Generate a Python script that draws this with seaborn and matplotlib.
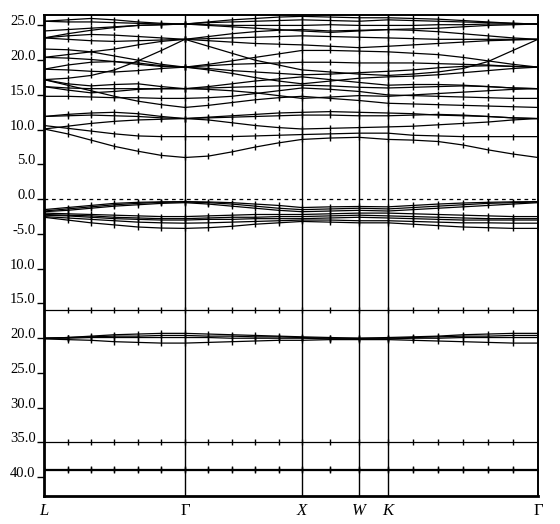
import numpy as np
import pandas as pd
import matplotlib
matplotlib.use('Agg')
import matplotlib.pyplot as plt
import seaborn as sns

# k-path: high-symmetry points and their path positions
sym_labels = ['L', 'Γ', 'X', 'W', 'K', 'Γ']
sym_pos = [0.0, 1.0, 1.830, 2.234, 2.440, 3.504]
seg_steps = [6, 5, 2, 1, 6]   # k-steps in each segment

# bands, values at the 21 k-points: L..Γ(7) Γ..X(5) X..W(2) K..Γ(7)
# conduction bands
cb01 = [10.1, 9.4, 8.5, 7.6, 6.9, 6.3, 6.0, 6.2, 6.8, 7.5, 8.1, 8.6, 8.8, 8.9, 8.6, 8.5, 8.3, 7.8, 7.1, 6.5, 6.0]
cb02 = [10.6, 10.2, 9.8, 9.4, 9.1, 9.0, 9.0, 9.0, 9.0, 9.1, 9.2, 9.3, 9.4, 9.5, 9.5, 9.2, 9.1, 9.0, 9.0, 9.0, 9.0]
cb03 = [11.9, 12.2, 12.4, 12.5, 12.3, 11.9, 11.6, 11.8, 12.0, 12.2, 12.4, 12.5, 12.6, 12.5, 12.4, 12.3, 12.1, 12.0, 11.9, 11.7, 11.6]
cb04 = [11.9, 12.0, 12.1, 12.0, 11.9, 11.7, 11.6, 11.4, 11.0, 10.6, 10.3, 10.1, 10.2, 10.3, 10.4, 10.5, 10.7, 10.9, 11.1, 11.4, 11.6]
cb05 = [10.1, 10.5, 10.9, 11.2, 11.4, 11.5, 11.6, 11.7, 11.8, 11.9, 12.0, 12.1, 12.1, 12.0, 12.0, 12.1, 12.2, 12.1, 11.9, 11.7, 11.6]
cb06 = [14.8, 14.8, 14.7, 14.6, 14.6, 14.5, 14.5, 14.6, 14.8, 15.2, 15.6, 16.0, 15.8, 15.5, 15.0, 14.9, 14.8, 14.7, 14.6, 14.5, 14.5]
cb07 = [17.2, 16.4, 15.6, 14.8, 14.1, 13.6, 13.2, 13.5, 13.9, 14.3, 14.6, 14.8, 14.5, 14.2, 13.8, 13.7, 13.6, 13.5, 13.4, 13.3, 13.2]
cb08 = [16.2, 16.0, 15.9, 15.9, 15.9, 15.9, 15.9, 15.8, 15.6, 15.3, 14.9, 14.5, 14.7, 14.9, 14.8, 15.0, 15.2, 15.4, 15.6, 15.8, 15.9]
cb09 = [17.2, 16.6, 16.3, 16.5, 16.6, 16.2, 15.9, 16.2, 16.6, 17.0, 17.3, 17.6, 17.2, 16.8, 16.4, 16.5, 16.5, 16.4, 16.2, 16.0, 15.9]
cb10 = [16.2, 15.7, 15.3, 15.5, 15.8, 15.9, 15.9, 16.0, 16.1, 16.2, 16.3, 16.4, 16.3, 16.1, 16.0, 16.1, 16.2, 16.3, 16.2, 16.0, 15.9]
cb11 = [18.7, 19.3, 19.7, 19.8, 19.6, 19.2, 19.0, 18.6, 18.1, 17.5, 17.0, 16.6, 17.0, 17.4, 17.6, 17.7, 17.9, 18.2, 18.5, 18.8, 19.0]
cb12 = [18.7, 18.6, 18.4, 18.3, 18.5, 18.8, 19.0, 19.2, 19.4, 19.5, 19.6, 19.7, 19.7, 19.6, 19.6, 19.6, 19.5, 19.4, 19.3, 19.1, 19.0]
cb13 = [21.6, 21.5, 21.2, 20.6, 20.0, 19.4, 19.0, 19.4, 19.9, 20.4, 20.9, 21.4, 21.4, 21.3, 21.2, 21.0, 20.8, 20.4, 19.9, 19.4, 19.0]
cb14 = [20.4, 20.3, 20.1, 19.8, 19.4, 19.1, 19.0, 18.8, 18.5, 18.3, 18.1, 17.9, 18.0, 18.2, 18.4, 18.6, 18.9, 19.1, 19.2, 19.1, 19.0]
cb15 = [17.2, 17.4, 17.8, 18.6, 19.9, 21.4, 23.0, 22.0, 21.0, 20.0, 19.3, 18.6, 18.3, 18.0, 17.8, 18.0, 18.3, 18.8, 19.8, 21.4, 23.0]
cb16 = [23.2, 23.0, 22.8, 22.7, 22.8, 22.9, 23.0, 23.1, 23.2, 23.3, 23.4, 23.5, 23.4, 23.3, 23.2, 23.1, 23.0, 23.0, 23.0, 23.0, 23.0]
cb17 = [23.2, 23.5, 23.7, 23.6, 23.4, 23.2, 23.0, 22.8, 22.6, 22.4, 22.3, 22.2, 22.0, 21.8, 22.0, 22.2, 22.4, 22.6, 22.8, 22.9, 23.0]
cb18 = [20.4, 20.8, 21.2, 21.6, 22.2, 22.7, 23.0, 23.4, 23.8, 24.1, 24.3, 24.4, 24.2, 24.3, 24.4, 24.3, 24.1, 23.8, 23.5, 23.2, 23.0]
cb19 = [24.2, 24.4, 24.6, 24.8, 25.0, 25.1, 25.2, 25.0, 24.8, 24.6, 24.4, 24.2, 24.0, 24.2, 24.4, 24.5, 24.6, 24.8, 25.0, 25.1, 25.2]
cb20 = [25.6, 25.8, 26.0, 25.8, 25.5, 25.3, 25.2, 25.5, 25.8, 26.0, 26.2, 26.3, 26.2, 26.1, 26.1, 26.0, 25.9, 25.7, 25.5, 25.3, 25.2]
cb21 = [23.2, 23.8, 24.3, 24.7, 25.0, 25.1, 25.2, 25.1, 25.0, 25.0, 25.0, 25.0, 25.1, 25.0, 25.0, 25.0, 25.1, 25.1, 25.2, 25.2, 25.2]
cb22 = [25.6, 25.5, 25.5, 25.4, 25.3, 25.2, 25.2, 25.4, 25.5, 25.6, 25.7, 25.8, 25.7, 25.6, 25.8, 25.7, 25.6, 25.5, 25.4, 25.3, 25.2]

# valence bands
vb01 = [-1.5, -1.2, -0.9, -0.6, -0.45, -0.38, -0.35, -0.4, -0.5, -0.7, -0.9, -1.2, -1.1, -1.05, -1.1, -0.9, -0.7, -0.55, -0.45, -0.38, -0.35]
vb02 = [-1.7, -1.4, -1.1, -0.8, -0.6, -0.45, -0.4, -0.5, -0.7, -1.0, -1.3, -1.5, -1.4, -1.3, -1.4, -1.2, -1.0, -0.8, -0.6, -0.5, -0.4]
vb03 = [-1.8, -1.6, -1.3, -1.0, -0.8, -0.6, -0.5, -0.7, -1.0, -1.3, -1.6, -1.8, -1.7, -1.6, -1.7, -1.5, -1.3, -1.1, -0.9, -0.7, -0.5]
vb04 = [-2.0, -2.1, -2.2, -2.3, -2.4, -2.5, -2.5, -2.4, -2.3, -2.2, -2.2, -2.2, -2.1, -2.0, -2.0, -2.1, -2.2, -2.3, -2.4, -2.5, -2.5]
vb05 = [-2.2, -2.3, -2.4, -2.6, -2.7, -2.8, -2.8, -2.7, -2.6, -2.6, -2.5, -2.5, -2.4, -2.3, -2.4, -2.5, -2.6, -2.7, -2.8, -2.8, -2.8]
vb06 = [-2.3, -2.4, -2.6, -2.8, -2.9, -3.0, -3.0, -2.9, -2.9, -2.8, -2.8, -2.8, -2.7, -2.6, -2.7, -2.8, -2.9, -3.0, -3.0, -3.0, -3.0]
vb07 = [-2.5, -2.7, -2.9, -3.1, -3.3, -3.4, -3.45, -3.4, -3.3, -3.2, -3.1, -3.0, -3.0, -3.1, -3.1, -3.2, -3.3, -3.4, -3.4, -3.45, -3.45]
vb08 = [-2.6, -3.0, -3.4, -3.7, -4.0, -4.15, -4.2, -4.1, -3.9, -3.6, -3.4, -3.2, -3.3, -3.4, -3.4, -3.6, -3.8, -4.0, -4.1, -4.2, -4.2]

# semicore bands
sc01 = [-20.0, -19.9, -19.7, -19.5, -19.4, -19.3, -19.3, -19.4, -19.5, -19.6, -19.7, -19.8, -19.9, -20.0, -19.9, -19.8, -19.7, -19.5, -19.4, -19.3, -19.3]
sc02 = [-20.0, -19.9, -19.8, -19.7, -19.7, -19.6, -19.6, -19.7, -19.7, -19.8, -19.8, -19.9, -20.0, -20.0, -20.0, -19.9, -19.8, -19.7, -19.7, -19.6, -19.6]
sc03 = [-20.0, -20.0, -19.9, -19.9, -19.9, -19.9, -19.9, -19.9, -20.0, -20.0, -20.0, -20.0, -20.1, -20.1, -20.1, -20.0, -20.0, -19.9, -19.9, -19.9, -19.9]
sc04 = [-20.1, -20.2, -20.3, -20.5, -20.6, -20.7, -20.7, -20.6, -20.5, -20.4, -20.3, -20.3, -20.2, -20.2, -20.2, -20.3, -20.4, -20.5, -20.6, -20.7, -20.7]
sc05 = [-15.9, -15.9, -15.9, -15.9, -15.9, -15.9, -15.9, -15.9, -15.9, -15.9, -15.9, -15.9, -15.9, -15.9, -15.9, -15.9, -15.9, -15.9, -15.9, -15.9, -15.9]
sc06 = [-35.0, -35.0, -35.0, -35.0, -35.0, -35.0, -35.0, -35.0, -35.0, -35.0, -35.0, -35.0, -35.0, -35.0, -35.0, -35.0, -35.0, -35.0, -35.0, -35.0, -35.0]
sc07 = [-38.8, -38.8, -38.8, -38.8, -38.8, -38.8, -38.8, -38.8, -38.8, -38.8, -38.8, -38.8, -38.8, -38.8, -38.8, -38.8, -38.8, -38.8, -38.8, -38.8, -38.8]
sc08 = [-39.0, -39.0, -39.0, -39.0, -39.0, -39.0, -39.0, -39.0, -39.0, -39.0, -39.0, -39.0, -39.0, -39.0, -39.0, -39.0, -39.0, -39.0, -39.0, -39.0, -39.0]

y_ticks = [25, 20, 15, 10, 5, 0, -5, -10, -15, -20, -25, -30, -35, -40]
y_ticklabels = ['25.0', '20.0', '15.0', '10.0', '5.0', '0.0', '-5.0',
                '10.0', '15.0', '20.0', '25.0', '30.0', '35.0', '40.0']

bands = {
    'cb01': cb01, 'cb02': cb02, 'cb03': cb03, 'cb04': cb04, 'cb05': cb05,
    'cb06': cb06, 'cb07': cb07, 'cb08': cb08, 'cb09': cb09, 'cb10': cb10,
    'cb11': cb11, 'cb12': cb12, 'cb13': cb13, 'cb14': cb14, 'cb15': cb15,
    'cb16': cb16, 'cb17': cb17, 'cb18': cb18, 'cb19': cb19, 'cb20': cb20,
    'cb21': cb21, 'cb22': cb22,
    'vb01': vb01, 'vb02': vb02, 'vb03': vb03, 'vb04': vb04,
    'vb05': vb05, 'vb06': vb06, 'vb07': vb07, 'vb08': vb08,
    'sc01': sc01, 'sc02': sc02, 'sc03': sc03, 'sc04': sc04,
    'sc05': sc05, 'sc06': sc06, 'sc07': sc07, 'sc08': sc08,
}

# k coordinate of each sample along the path
kpts = [sym_pos[0]]
for i, n in enumerate(seg_steps):
    kpts += list(np.linspace(sym_pos[i], sym_pos[i + 1], n + 1)[1:])
kpts = np.array(kpts)

rows = []
for name, vals in bands.items():
    for k, e in zip(kpts, vals):
        rows.append((name, k, e))
df = pd.DataFrame(rows, columns=['band', 'k', 'E'])

sns.set_theme(style='white')
plt.rcParams['font.family'] = ['Liberation Serif', 'DejaVu Serif']

fig = plt.figure(figsize=(5.6, 5.24), dpi=100)
ax = fig.add_axes([0.0786, 0.0534, 0.882, 0.918])

sns.lineplot(data=df, x='k', y='E', units='band', estimator=None, sort=False,
             color='black', lw=0.9, marker='|', ms=5, mew=1.0,
             mec='black', mfc='black', legend=False, ax=ax)

for p in sym_pos[1:-1]:
    ax.axvline(p, color='black', lw=1.0)
ax.axhline(0, color='black', lw=0.9, ls=(0, (3, 3)))

ax.set_xlim(sym_pos[0], sym_pos[-1])
ax.set_ylim(-42.7, 26.5)
ax.set_xlabel('')
ax.set_ylabel('')

ax.set_xticks(sym_pos)
ax.set_xticklabels(sym_labels, fontsize=12)
for t in ax.get_xticklabels():
    if t.get_text() != 'Γ':
        t.set_fontstyle('italic')
ax.tick_params(axis='x', length=0, pad=5, colors='black')

ax.set_yticks(y_ticks)
ax.set_yticklabels(y_ticklabels, fontsize=10.5)
for t in ax.get_yticklabels():
    t.set_verticalalignment('baseline')
ax.tick_params(axis='y', direction='out', length=5, width=1, pad=1,
               left=True, colors='black')

for s in ['left', 'bottom']:
    ax.spines[s].set_linewidth(2.0)
for s in ['top', 'right']:
    ax.spines[s].set_linewidth(1.4)
for s in ax.spines.values():
    s.set_color('black')

fig.savefig('out.png', dpi=100)
